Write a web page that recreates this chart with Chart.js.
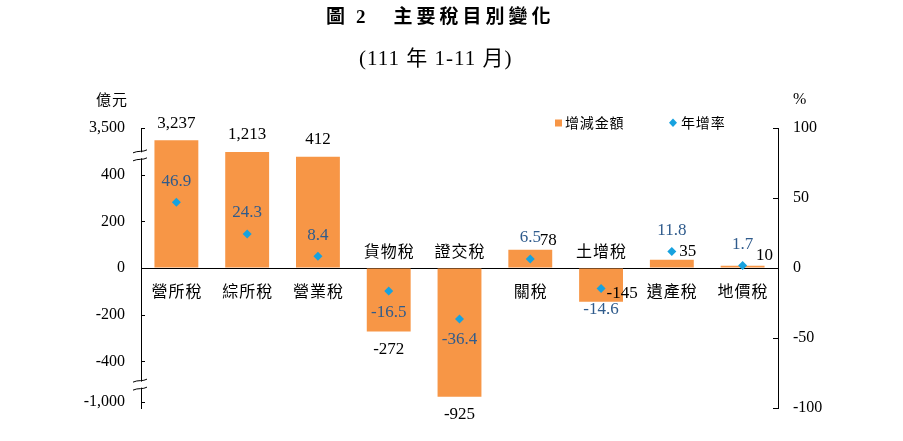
<!DOCTYPE html>
<html>
<head>
<meta charset="utf-8">
<script src="https://cdn.jsdelivr.net/npm/chart.js@4.4.1/dist/chart.umd.min.js"></script>
<style>
  body { margin: 0; background: #fff; }
  #wrap { position: relative; width: 903px; height: 441px; }
  #chart { position: absolute; left: 0; top: 0; }
  .txt { position: absolute; white-space: nowrap; color: #000; font-family: 'Liberation Serif', 'Noto Sans CJK TC', serif; }
  #title { left: 326px; top: 3px; font-size: 19px; font-weight: bold; line-height: 28px; }
  #title .num { margin-left: 11px; }
  #title .main { letter-spacing: 4px; margin-left: 28px; }
  #sub { left: 359px; top: 44px; font-size: 21px; line-height: 28px; letter-spacing: 1px; }
  #unitL { left: 96px; top: 89px; font-size: 15px; line-height: 20px; font-family: 'Noto Sans CJK TC', sans-serif; letter-spacing: 1px; }
  #unitR { left: 793px; top: 89px; font-size: 16px; line-height: 20px; }
</style>
</head>
<body>
<div id="wrap">
  <canvas id="chart" width="903" height="441"></canvas>
  <div class="txt" id="title">圖<span class="num">2</span><span class="main">主要稅目別變化</span></div>
  <div class="txt" id="sub">(111 年 1-11 月)</div>
  <div class="txt" id="unitL">億元</div>
  <div class="txt" id="unitR">%</div>
</div>
<script>
// data
const categories = ['營所稅', '綜所稅', '營業稅', '貨物稅', '證交稅', '關稅', '土增稅', '遺產稅', '地價稅'];
const changeAmount = [3237, 1213, 412, -272, -925, 78, -145, 35, 10];   // 增減金額 (億元)
const growthRate = [46.9, 24.3, 8.4, -16.5, -36.4, 6.5, -14.6, 11.8, 1.7]; // 年增率 (%)
const amountTicks = [-1000, -400, -200, 0, 200, 400, 3500];
const rateTicks = [-100, -50, 0, 50, 100];

// broken left axis: linear between -400 and 400, compressed beyond
const BREAK_HI = 400, BREAK_LO = -400;
const HI_GAP = 77, HI_K = 0.02475, LO_K = 0.29;
const Y_TOP = 600, Y_BOTTOM = -600;
const toAxis = v => {
    if (v > BREAK_HI) return BREAK_HI + HI_GAP + (v - BREAK_HI) * HI_K;
    if (v < BREAK_LO) return BREAK_LO + (v - BREAK_LO) * LO_K;
    return v;
};

const ORANGE = '#F79646';
const CYAN = '#17A2DF';
const RATE_TEXT = '#2F5B8C';
const SERIF = "'Liberation Serif', serif";
const CJK = "'Noto Sans CJK TC', sans-serif";

// hand nudges for amount labels that sit beside the small bars
const amountLabelNudge = { '關稅': [18, 8], '土增稅': [21, -26], '遺產稅': [16, 9], '地價稅': [22, 7] };

const fmt = v => v.toLocaleString('en-US');

const decorations = {
    id: 'decorations',
    afterDatasetsDraw(chart) {
        const ctx = chart.ctx;
        const bars = chart.getDatasetMeta(1).data;
        const points = chart.getDatasetMeta(0).data;
        const zeroY = chart.scales.y.getPixelForValue(0);
        ctx.save();
        ctx.textAlign = 'center';
        ctx.textBaseline = 'middle';

        categories.forEach((name, i) => {
            const v = changeAmount[i];
            const bar = bars[i];
            // category name on the opposite side of the bar
            ctx.font = '16px ' + CJK;
            ctx.fillStyle = '#000';
            ctx.fillText(name.split('').join('\u200A'), bar.x, v >= 0 ? zeroY + 23 : zeroY - 17);

            // amount label
            const nudge = amountLabelNudge[name] || [0, 0];
            ctx.font = '17px ' + SERIF;
            ctx.fillText(fmt(v), bar.x + nudge[0], (v >= 0 ? bar.y - 17 : bar.y + 18) + nudge[1]);

            // growth rate label
            const p = points[i];
            const r = growthRate[i];
            ctx.fillStyle = RATE_TEXT;
            ctx.fillText(r.toFixed(1), p.x, r >= 0 ? p.y - 21 : p.y + 21);
        });

        // legend
        ctx.textAlign = 'left';
        ctx.font = '14px ' + CJK;
        ctx.fillStyle = ORANGE;
        ctx.fillRect(555, 119.5, 7, 7);
        ctx.fillStyle = '#000';
        ctx.fillText('增減金額'.split('').join('\u200A'), 565, 123);
        ctx.fillStyle = CYAN;
        ctx.beginPath();
        ctx.moveTo(673, 118.5); ctx.lineTo(677, 122.8); ctx.lineTo(673, 127); ctx.lineTo(669, 122.8);
        ctx.closePath();
        ctx.fill();
        ctx.fillStyle = '#000';
        ctx.fillText('年增率'.split('').join('\u200A'), 681, 123);
        ctx.restore();
    },
    afterDraw(chart) {
        const ctx = chart.ctx;
        const y = chart.scales.y, y1 = chart.scales.y1;
        const left = chart.chartArea.left, right = chart.chartArea.right;
        ctx.save();
        ctx.strokeStyle = '#000';
        ctx.lineWidth = 1;
        // inward tick marks
        y.ticks.forEach(t => {
            const py = Math.round(y.getPixelForValue(t.value)) + 0.5;
            ctx.beginPath(); ctx.moveTo(left, py); ctx.lineTo(left + 4, py); ctx.stroke();
        });
        y1.ticks.forEach(t => {
            const py = Math.round(y1.getPixelForValue(t.value)) + 0.5;
            ctx.beginPath(); ctx.moveTo(right - 5, py); ctx.lineTo(right, py); ctx.stroke();
        });
        // axis break marks
        const breakAt = [
            (y.getPixelForValue(toAxis(400)) + y.getPixelForValue(Y_TOP)) / 2 + 4,
            (y.getPixelForValue(BREAK_LO) + y.getPixelForValue(toAxis(-1000))) / 2 + 3
        ];
        breakAt.forEach(by => {
            ctx.fillStyle = '#fff';
            ctx.fillRect(left - 2, by - 3, 4, 6);
            [-4, 4].forEach(d => {
                ctx.beginPath();
                ctx.moveTo(left - 8, by + d + 1.5);
                ctx.bezierCurveTo(left - 3, by + d - 1, left + 2, by + d + 1, left + 6, by + d - 1.5);
                ctx.stroke();
            });
        });
        ctx.restore();
    }
};

new Chart(document.getElementById('chart').getContext('2d'), {
    data: {
        labels: categories,
        datasets: [
            {
                type: 'line',
                label: '年增率',
                data: growthRate,
                yAxisID: 'y1',
                showLine: false,
                pointStyle: 'rectRot',
                pointRadius: 4.5,
                pointBackgroundColor: CYAN,
                pointBorderWidth: 0,
                order: 1
            },
            {
                type: 'bar',
                label: '增減金額',
                data: changeAmount.map(toAxis),
                yAxisID: 'y',
                backgroundColor: ORANGE,
                barPercentage: 0.62,
                categoryPercentage: 1,
                order: 2
            }
        ]
    },
    options: {
        responsive: false,
        animation: false,
        layout: { padding: { top: 128, bottom: 33, left: 0, right: 0 } },
        plugins: {
            legend: { display: false },
            tooltip: { enabled: false }
        },
        scales: {
            x: { display: false },
            y: {
                position: 'left',
                min: Y_BOTTOM,
                max: Y_TOP,
                afterBuildTicks: s => {
                    s.ticks = amountTicks.map((v, i) => ({ value: i === amountTicks.length - 1 ? Y_TOP : toAxis(v) }));
                },
                afterFit: s => { s.width = 141; },
                ticks: {
                    padding: 16,
                    color: '#000',
                    font: { family: SERIF, size: 16 },
                    callback: (val, i) => fmt(amountTicks[i])
                },
                grid: {
                    drawTicks: false,
                    color: ctx => (ctx.tick && ctx.tick.value === 0 ? '#000' : 'transparent')
                },
                border: { display: true, color: '#000' }
            },
            y1: {
                position: 'right',
                min: -100,
                max: 100,
                afterBuildTicks: s => { s.ticks = rateTicks.map(v => ({ value: v })); },
                afterFit: s => { s.width = 125; },
                ticks: {
                    padding: 15,
                    color: '#000',
                    font: { family: SERIF, size: 16 }
                },
                grid: { display: false, drawTicks: false },
                border: { display: true, color: '#000' }
            }
        }
    },
    plugins: [decorations]
});
</script>
</body>
</html>
